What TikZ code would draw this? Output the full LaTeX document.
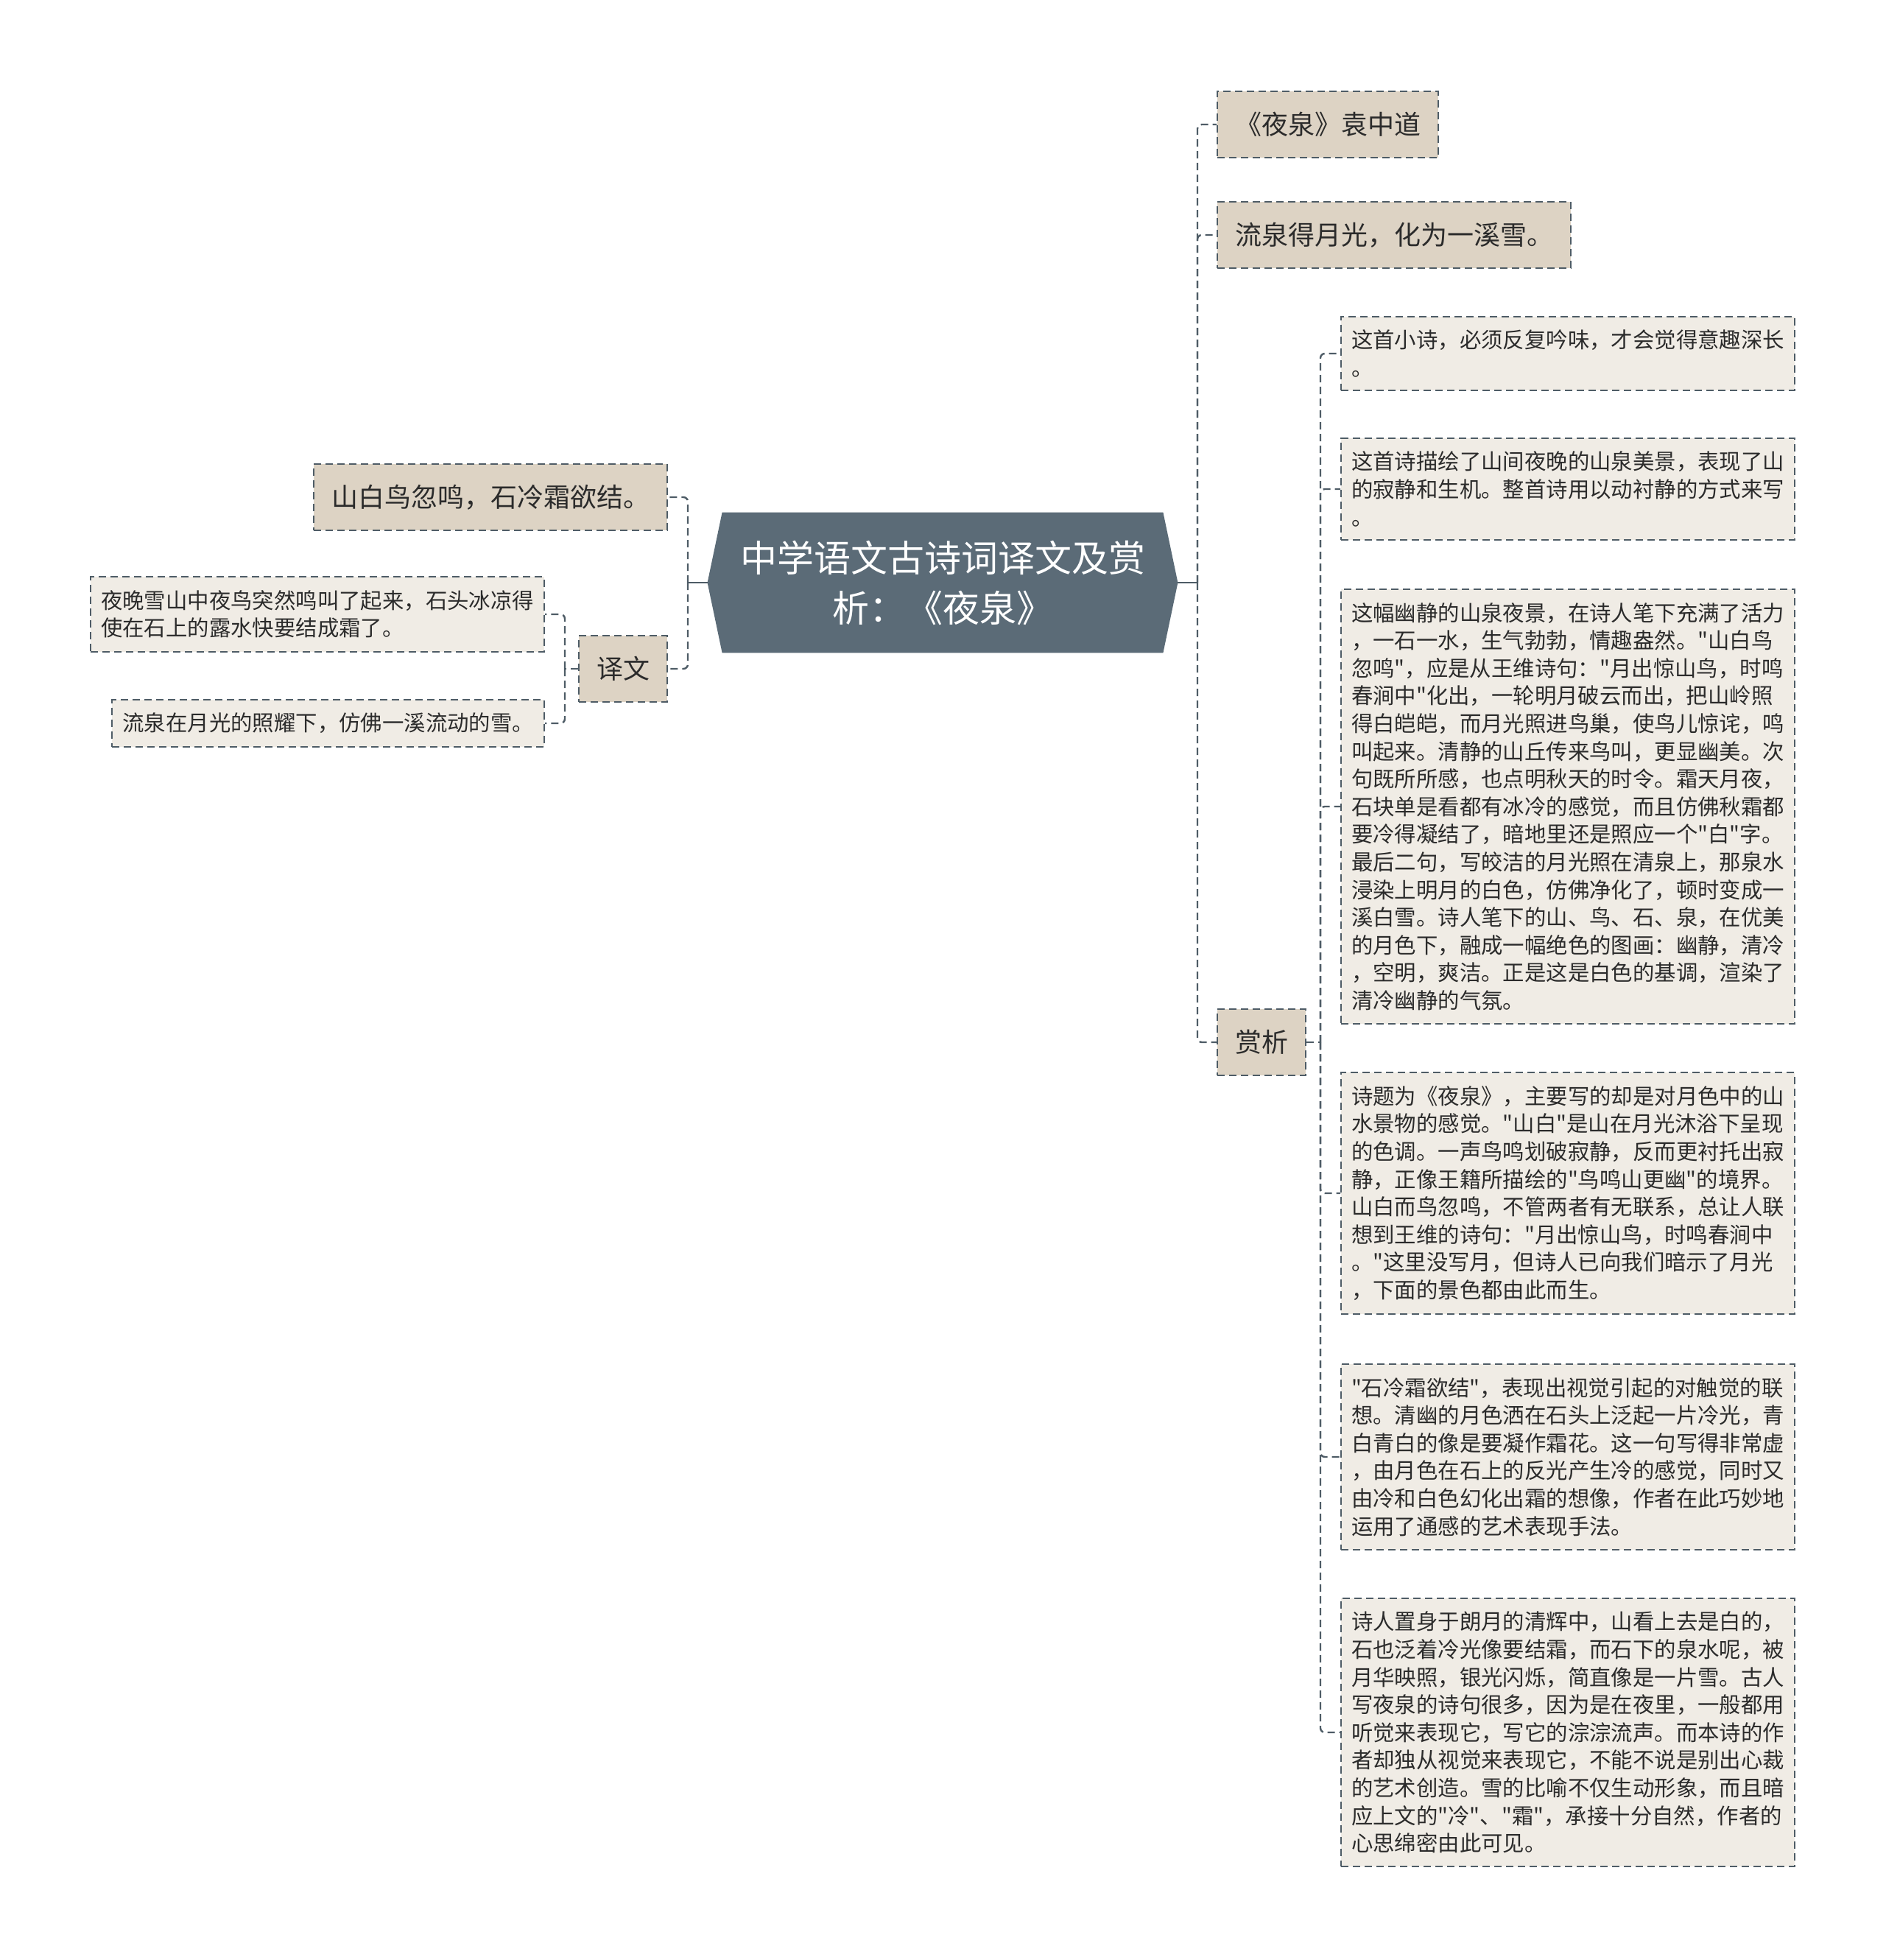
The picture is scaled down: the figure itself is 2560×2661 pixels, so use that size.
\documentclass[tikz,border=0pt]{standalone}
\usepackage{fontspec}
\newfontfamily\cjk{Noto Sans CJK SC}
\usepackage{tikz}
\usetikzlibrary{backgrounds}

\definecolor{rootcol}{HTML}{5B6B77}
\definecolor{maincol}{HTML}{DDD3C4}
\definecolor{leafcol}{HTML}{F0ECE5}
\definecolor{linecol}{HTML}{4E5C66}
\definecolor{txtcol}{HTML}{2B2B2B}

\tikzset{
	box/.style={draw=linecol, line width=1pt, dash pattern=on 5pt off 3pt, text=txtcol, align=left},
	mainbox/.style={box, fill=maincol, inner xsep=12pt, minimum height=45pt, font=\cjk\fontsize{18pt}{22pt}\selectfont},
	leafbox/.style={box, fill=leafcol, inner xsep=7pt, inner ysep=9pt, font=\cjk\fontsize{14.7pt}{18.8pt}\selectfont},
	link/.style={draw=linecol, line width=1.2pt, dash pattern=on 5pt off 3pt, rounded corners=3pt},
	trunk/.style={draw=linecol, line width=1.2pt}
}

\begin{document}
\begin{tikzpicture}[x=0.5pt,y=-0.5pt]
	\useasboundingbox (0,0) rectangle (2560,2661);

	\node[minimum width=299pt, minimum height=95pt, align=center, text=white, font=\cjk\fontsize{25pt}{34pt}\selectfont] (root) at (1280,791) {中学语文古诗词译文及赏\\析：《夜泉》};
	\coordinate (rootR) at ([xshift=10pt]root.east);
	\coordinate (rootL) at ([xshift=-10pt]root.west);
	\begin{scope}[on background layer]
		\fill[rootcol] (root.north west) -- (root.north east) -- (rootR) -- (root.south east) -- (root.south west) -- (rootL) -- cycle;
	\end{scope}

	% right side
	\node[mainbox, anchor=west] (title)   at (1652,169)  {《夜泉》袁中道};
	\node[mainbox, anchor=west] (verse2)  at (1652,319)  {流泉得月光，化为一溪雪。};
	\node[mainbox, anchor=west] (shangxi) at (1652,1415) {赏析};

	\node[leafbox, anchor=west] (s1) at (1820,480) {这首小诗，必须反复吟味，才会觉得意趣深长\\
。};
	\node[leafbox, anchor=west] (s2) at (1820,664) {这首诗描绘了山间夜晚的山泉美景，表现了山\\
的寂静和生机。整首诗用以动衬静的方式来写\\
。};
	\node[leafbox, anchor=west] (s3) at (1820,1095) {这幅幽静的山泉夜景，在诗人笔下充满了活力\\
，一石一水，生气勃勃，情趣盎然。"山白鸟\\
忽鸣"，应是从王维诗句："月出惊山鸟，时鸣\\
春涧中"化出，一轮明月破云而出，把山岭照\\
得白皑皑，而月光照进鸟巢，使鸟儿惊诧，鸣\\
叫起来。清静的山丘传来鸟叫，更显幽美。次\\
句既所所感，也点明秋天的时令。霜天月夜，\\
石块单是看都有冰冷的感觉，而且仿佛秋霜都\\
要冷得凝结了，暗地里还是照应一个"白"字。\\
最后二句，写皎洁的月光照在清泉上，那泉水\\
浸染上明月的白色，仿佛净化了，顿时变成一\\
溪白雪。诗人笔下的山、鸟、石、泉，在优美\\
的月色下，融成一幅绝色的图画：幽静，清冷\\
，空明，爽洁。正是这是白色的基调，渲染了\\
清冷幽静的气氛。};
	\node[leafbox, anchor=west] (s4) at (1820,1620) {诗题为《夜泉》，主要写的却是对月色中的山\\
水景物的感觉。"山白"是山在月光沐浴下呈现\\
的色调。一声鸟鸣划破寂静，反而更衬托出寂\\
静，正像王籍所描绘的"鸟鸣山更幽"的境界。\\
山白而鸟忽鸣，不管两者有无联系，总让人联\\
想到王维的诗句："月出惊山鸟，时鸣春涧中\\
。"这里没写月，但诗人已向我们暗示了月光\\
，下面的景色都由此而生。};
	\node[leafbox, anchor=west] (s5) at (1820,1978) {"石冷霜欲结"，表现出视觉引起的对触觉的联\\
想。清幽的月色洒在石头上泛起一片冷光，青\\
白青白的像是要凝作霜花。这一句写得非常虚\\
，由月色在石上的反光产生冷的感觉，同时又\\
由冷和白色幻化出霜的想像，作者在此巧妙地\\
运用了通感的艺术表现手法。};
	\node[leafbox, anchor=west] (s6) at (1820,2352) {诗人置身于朗月的清辉中，山看上去是白的，\\
石也泛着冷光像要结霜，而石下的泉水呢，被\\
月华映照，银光闪烁，简直像是一片雪。古人\\
写夜泉的诗句很多，因为是在夜里，一般都用\\
听觉来表现它，写它的淙淙流声。而本诗的作\\
者却独从视觉来表现它，不能不说是别出心裁\\
的艺术创造。雪的比喻不仅生动形象，而且暗\\
应上文的"冷"、"霜"，承接十分自然，作者的\\
心思绵密由此可见。};

	% left side
	\node[mainbox, anchor=east] (verse1) at (907,675) {山白鸟忽鸣，石冷霜欲结。};
	\node[mainbox, anchor=east] (yiwen)  at (907,908) {译文};

	\node[leafbox, anchor=east] (y1) at (740,834) {夜晚雪山中夜鸟突然鸣叫了起来，石头冰凉得\\
使在石上的露水快要结成霜了。};
	\node[leafbox, anchor=east] (y2) at (740,982) {流泉在月光的照耀下，仿佛一溪流动的雪。};

	% connectors
	\coordinate (rs) at (1626,791);
	\coordinate (ls) at (934,791);
	\coordinate (ss) at (1793,1415);
	\coordinate (ys) at (767,908);

	\draw[trunk] (rootR) -- (rs);
	\draw[trunk] (rootL) -- (ls);
	\draw[link] (rs) |- (title.west);
	\draw[link] (rs) |- (verse2.west);
	\draw[link] (rs) |- (shangxi.west);
	\draw[link] (ls) |- (verse1.east);
	\draw[link] (ls) |- (yiwen.east);

	\draw[link] (shangxi.east) -- (ss);
	\draw[link] (ss) |- (s1.west);
	\draw[link] (ss) |- (s2.west);
	\draw[link] (ss) |- (s3.west);
	\draw[link] (ss) |- (s4.west);
	\draw[link] (ss) |- (s5.west);
	\draw[link] (ss) |- (s6.west);

	\draw[link] (yiwen.west) -- (ys);
	\draw[link] (ys) |- (y1.east);
	\draw[link] (ys) |- (y2.east);
\end{tikzpicture}
\end{document}
